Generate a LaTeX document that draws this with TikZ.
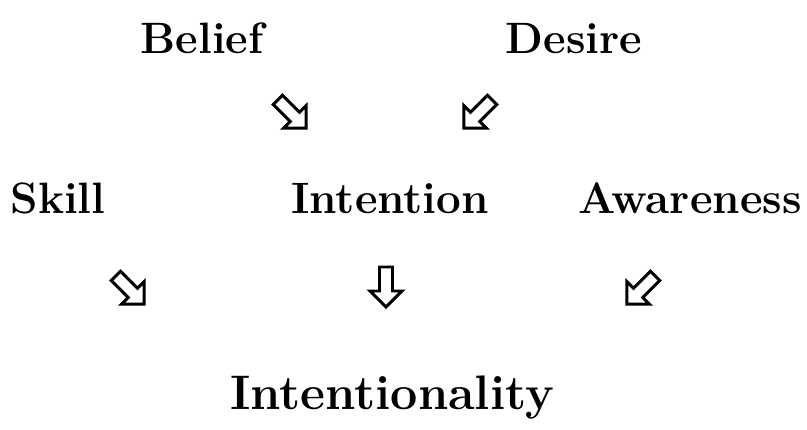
\documentclass[tikz,border=0pt]{standalone}
\usepackage{tikz}
\usetikzlibrary{positioning}
\tikzset{
  word/.style={font=\fontsize{12.5}{15}\selectfont\bfseries,inner sep=0pt,anchor=base},
  big word/.style={word,font=\fontsize{13.8}{16}\selectfont\bfseries},
  % hollow block arrow, pointing along +x
  pics/hollow arrow/.style={code={
    \draw[line width=0.85pt,fill=white] (-0.20,-0.065) -- (0.04,-0.065) -- (0.04,-0.16) -- (0.20,0)
      -- (0.04,0.16) -- (0.04,0.065) -- (-0.20,0.065) -- cycle;
  }},
}
\begin{document}
\begin{tikzpicture}
  \useasboundingbox (0,0) rectangle (8.07,-4.30);
  % top row
  \node[word] (belief) at (2.02,-0.54) {Belief};
  \node[word] (desire) at (5.74,-0.54) {Desire};
  % middle row
  \node[word] (skill) at (0.58,-2.14) {Skill};
  \node[word] (intention) at (3.90,-2.14) {Intention};
  \node[word] (awareness) at (6.90,-2.14) {Awareness};
  % bottom
  \node[big word] (intentionality) at (3.92,-4.10) {Intentionality};
  % arrows
  \pic[rotate=-45] at (2.92,-1.14) {hollow arrow};
  \pic[rotate=-135] at (4.78,-1.14) {hollow arrow};
  \pic[rotate=-45] at (1.30,-2.90) {hollow arrow};
  \pic[rotate=-90] at (3.86,-2.87) {hollow arrow};
  \pic[rotate=-135] at (6.41,-2.90) {hollow arrow};
\end{tikzpicture}
\end{document}
